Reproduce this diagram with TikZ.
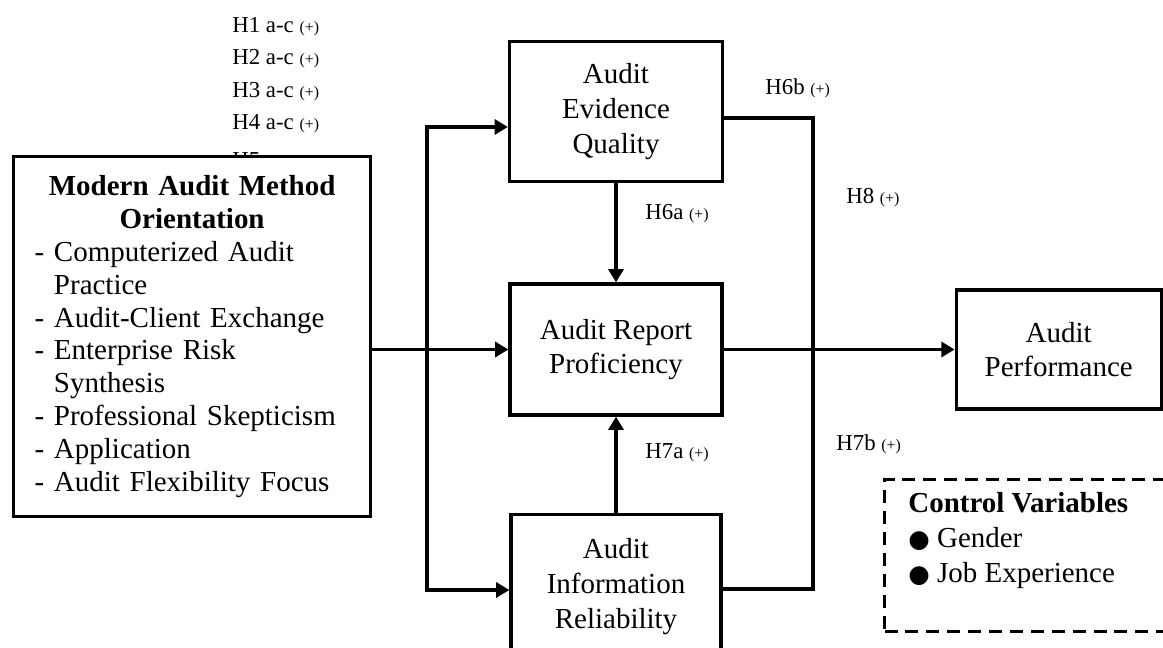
\documentclass[tikz,border=0pt]{standalone}
\usepackage{fontspec}
\setmainfont{Liberation Serif}
\newfontfamily\symb{DejaVu Sans}
\usetikzlibrary{arrows.meta, positioning}

\newcommand{\hyp}[1]{#1 {\fontsize{9}{10}\selectfont(+)}}
\newcommand{\dotitem}{{\symb\fontsize{14}{16}\selectfont ●}}

\begin{document}
\begin{tikzpicture}[x=0.02cm, y=-0.02cm,
        >={Triangle[length=7.5pt, width=8.5pt]},
        box/.style={draw, line width=1.9pt, fill=white, align=center,
            font=\fontsize{16.5}{19.8}\selectfont},
        hlab/.style={anchor=base west, inner sep=0, font=\fontsize{13}{15}\selectfont},
        link/.style={line width=2pt},
        arr/.style={link, ->}]
    \useasboundingbox (0,0) rectangle (1163,648);
    \clip (0,0) rectangle (1163,648);
    % hypotheses
    \foreach \n [count=\i from 0] in {1,...,4}
        \node[hlab] (h\n) at (232, 32.5+32.3*\i) {\hyp{H\n\ a-c}};
    \node[hlab] (h5) at (232,168) {\hyp{H5 a-c}};
    \node[hlab] (h6b) at (765,95) {\hyp{H6b}};
    \node[hlab] (h8) at (846,204) {\hyp{H8}};
    \node[hlab] (h6a) at (645,220) {\hyp{H6a}};
    \node[hlab] (h7a) at (645,459) {\hyp{H7a}};
    \node[hlab] (h7b) at (836,450) {\hyp{H7b}};
    % constructs
    \node[box, anchor=north west, minimum width=7.14cm, minimum height=7.2cm,
        text width=6.3cm, inner xsep=0.42cm, align=left,
        font=\fontsize{16.5}{18.7}\selectfont] (mamo) at (12,155)
        {{\centering\bfseries Modern Audit Method\\Orientation\par}
        \raggedright
        - Computerized Audit\\
        \phantom{- }Practice\\
        - Audit-Client Exchange\\
        - Enterprise Risk\\
        \phantom{- }Synthesis\\
        - Professional Skepticism\\
        - Application\\
        - Audit Flexibility Focus};
    \node[box, minimum width=4.24cm, minimum height=2.62cm] (arp) at (616,349.5) {Audit Report\\Proficiency};
    \node[box, minimum width=4.26cm, minimum height=2.8cm, above=1.98cm of arp] (aeq) {Audit\\Evidence\\Quality};
    \node[box, minimum width=4.2cm, minimum height=2.88cm, below=1.92cm of arp] (air) {Audit\\Information\\Reliability};
    \node[box, minimum width=4.1cm, minimum height=2.38cm, right=4.62cm of arp] (ap) {Audit\\Performance};
    % control variables
    \node[draw, line width=1.7pt, dash pattern=on 7.4pt off 4.5pt, anchor=north west,
        minimum width=5.9cm, minimum height=3.04cm] (cv) at (883,478) {};
    \node[anchor=north west, inner sep=0, align=left, font=\fontsize{16.5}{19.8}\selectfont] (cvt) at (908,492)
        {\textbf{Control Variables}\\\dotitem\ Gender\\\dotitem\ Job Experience};
    % paths
    \coordinate (lt) at (427,127);
    \coordinate (lb) at (427,590);
    \coordinate (rt) at (813,118);
    \coordinate (rb) at (813,589);
    \draw[arr] (mamo.east |- arp.west) -- (arp.west);
    \draw[link, <->] (lt -| aeq.west) -- (lt) -- (lb) -- (lb -| air.west);
    \draw[link] (rt -| aeq.east) -- (rt) -- (rb) -- (rb -| air.east);
    \draw[arr] (arp.east) -- (ap.west);
    \draw[arr] (aeq.south) -- (arp.north);
    \draw[arr] (air.north) -- (arp.south);
\end{tikzpicture}
\end{document}
